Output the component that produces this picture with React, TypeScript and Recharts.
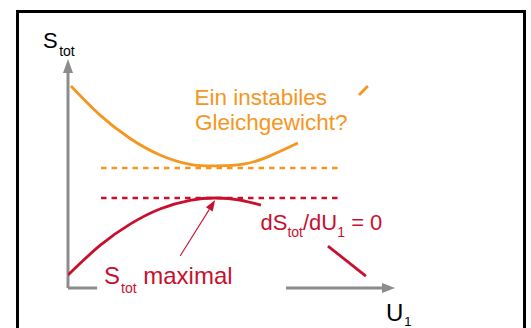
import { ComposedChart, Line, XAxis, YAxis, ReferenceLine } from "recharts";

const ORANGE = "#F5961E";
const RED = "#C8102E";
const AXIS = "#8C8C8C";
const FONT = "'Liberation Sans', Arial, sans-serif";

// U1 (0..10) and S_tot (0..10)
const orangeU = [0.09, 0.98, 1.9, 2.81, 3.73, 4.53, 5.41, 6.18, 7.03];
const orangeS = [8.82, 7.55, 6.53, 5.81, 5.4, 5.33, 5.42, 5.77, 6.33];
const orangeTailU = [8.9, 9.17];
const orangeTailS = [8.43, 8.82];
const redU = [0, 0.98, 1.9, 2.81, 3.73, 4.53, 5.26, 5.9];
const redS = [0.57, 1.86, 2.79, 3.45, 3.83, 3.93, 3.84, 3.62];
const redTailU = [7.95, 9.11];
const redTailS = [1.83, 0.52];
const levelU = [1.01, 8.38];
const unstableLevel = 5.24;
const stableLevel = 3.93;
const pointerU = [3.43, 4.5];
const pointerS = [1.4, 3.84];
const axisGapU = [0.89, 6.67];

const pts = (u: number[], s: number[]) => u.map((x, i) => ({ u: x, s: s[i] }));

const arrow =
  (len: number, half: number, width: number, color: string) =>
  (p: any) => {
    const { x1, y1, x2, y2 } = p;
    const dx = x2 - x1;
    const dy = y2 - y1;
    const d = Math.hypot(dx, dy) || 1;
    const ux = dx / d;
    const uy = dy / d;
    const bx = x2 - ux * len;
    const by = y2 - uy * len;
    return (
      <g>
        <line x1={x1} y1={y1} x2={bx} y2={by} stroke={color} strokeWidth={width} />
        <polygon
          points={`${x2},${y2} ${bx - uy * half},${by + ux * half} ${bx + uy * half},${by - ux * half}`}
          fill={color}
        />
      </g>
    );
  };

function Texts() {
  return (
    <g fontFamily={FONT}>
      <text x={43} y={48} fontSize={22} fill="#000">
        S<tspan fontSize={14} dy={8} dx={1.5}>tot</tspan>
      </text>
      <text x={194.5} y={104.5} fontSize={22.5} fill={ORANGE}>Ein instabiles</text>
      <text x={195} y={130} fontSize={22.5} fill={ORANGE}>Gleichgewicht?</text>
      <text x={260.5} y={230} fontSize={22} fill={RED}>
        dS<tspan fontSize={14} dy={7}>tot</tspan>
        <tspan dy={-7}>/dU</tspan>
        <tspan fontSize={14} dy={7}>1</tspan>
        <tspan dy={-7}> = 0</tspan>
      </text>
      <text x={104} y={284} fontSize={24} fill={RED}>
        S<tspan fontSize={14} dy={9} dx={1}>tot</tspan>
        <tspan dy={-9}> maximal</tspan>
      </text>
      <text x={386} y={321} fontSize={24} fill="#000">
        U<tspan fontSize={13} dy={5} dx={1}>1</tspan>
      </text>
    </g>
  );
}

export default function App() {
  return (
    <div
      style={{ position: "absolute", left: 0, top: 0, width: 531, height: 328, overflow: "hidden", background: "#fff" }}
    >
      <div
        style={{
          position: "absolute",
          left: 16,
          top: 10,
          width: 510,
          height: 340,
          border: "3px solid #000",
          boxSizing: "border-box",
        }}
      />
      <div style={{ position: "absolute", left: 0, top: 0 }}>
        <ComposedChart width={531} height={328} margin={{ top: 59, right: 136, bottom: 40, left: 68 }}>
          <XAxis type="number" dataKey="u" domain={[0, 10]} hide allowDataOverflow />
          <YAxis type="number" dataKey="s" domain={[0, 10]} hide allowDataOverflow />

          <ReferenceLine
            segment={[{ x: 0, y: 0 }, { x: 0, y: 10 }]}
            ifOverflow="visible"
            shape={arrow(14, 5, 3, AXIS)}
          />
          <ReferenceLine
            segment={[{ x: 0, y: 0 }, { x: axisGapU[0], y: 0 }]}
            ifOverflow="visible"
            stroke={AXIS}
            strokeWidth={3}
          />
          <ReferenceLine
            segment={[{ x: axisGapU[1], y: 0 }, { x: 10, y: 0 }]}
            ifOverflow="visible"
            shape={arrow(13, 5, 3, AXIS)}
          />

          <ReferenceLine
            segment={[{ x: levelU[0], y: unstableLevel }, { x: levelU[1], y: unstableLevel }]}
            stroke={ORANGE}
            strokeWidth={2.7}
            strokeDasharray="5.5 5"
          />
          <ReferenceLine
            segment={[{ x: levelU[0], y: stableLevel }, { x: levelU[1], y: stableLevel }]}
            stroke={RED}
            strokeWidth={2.7}
            strokeDasharray="5.5 5"
          />

          <Line data={pts(orangeU, orangeS)} dataKey="s" type="natural" stroke={ORANGE} strokeWidth={2.8} dot={false} activeDot={false} isAnimationActive={false} />
          <Line data={pts(orangeTailU, orangeTailS)} dataKey="s" type="linear" stroke={ORANGE} strokeWidth={2.8} dot={false} activeDot={false} isAnimationActive={false} />
          <Line data={pts(redU, redS)} dataKey="s" type="natural" stroke={RED} strokeWidth={2.8} dot={false} activeDot={false} isAnimationActive={false} />
          <Line data={pts(redTailU, redTailS)} dataKey="s" type="linear" stroke={RED} strokeWidth={2.8} dot={false} activeDot={false} isAnimationActive={false} />

          <ReferenceLine
            segment={[{ x: pointerU[0], y: pointerS[0] }, { x: pointerU[1], y: pointerS[1] }]}
            shape={arrow(11, 4, 1.1, RED)}
          />

          <Texts />
        </ComposedChart>
      </div>
    </div>
  );
}
